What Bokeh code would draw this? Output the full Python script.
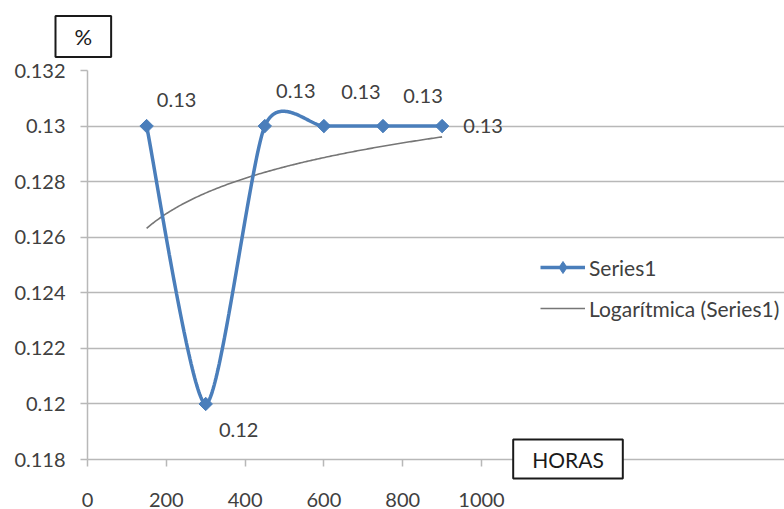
import numpy as np
from bokeh.plotting import figure
from bokeh.models import (Range1d, FixedTicker, CustomJSTickFormatter, Label,
                          Legend, LegendItem)
from bokeh.embed import file_html
from bokeh.resources import INLINE

# ---------------- data ----------------
horas = [150, 300, 450, 600, 750, 900]
series1 = [0.13, 0.12, 0.13, 0.13, 0.13, 0.13]
x_ticks = [0, 200, 400, 600, 800, 1000]
y_ticks = [0.118, 0.12, 0.122, 0.124, 0.126, 0.128, 0.13, 0.132]
series_name = "Series1"
trend_name = "Logarítmica (Series1)"
x_title = "HORAS"
y_title = "%"

# ---------------- styling / layout ----------------
FONT = "Lato"
TXT = "#404040"
BLUE = "#4a7ebb"
GRID = "#b8b8b8"
TREND = "#767676"
label_dx = [30, 33, 31, 37, 40, 41]
label_dy = [26, -26, 35, 34, 30, 0]
K = 0.12  # smoothing tension

X_MIN, X_MAX = 0, 1000
Y_MIN, Y_MAX = 0.118, 0.132
PLOT_W_PX = 394      # pixels for x 0..1000
PLOT_H_PX = 390      # pixels for y 0.118..0.132
EXTRA_B = 21         # frame continues below y=0.118 (axis title box)
B_LEFT, B_TOP = 87, 70
W, H = 784, 509
FRAME_W = W - B_LEFT
FRAME_H = PLOT_H_PX + EXTRA_B
x_end = X_MAX * FRAME_W / PLOT_W_PX
y_start = Y_MIN - (Y_MAX - Y_MIN) * EXTRA_B / PLOT_H_PX

p = figure(width=W, height=H, output_backend="svg", toolbar_location=None,
           x_range=Range1d(X_MIN, x_end), y_range=Range1d(y_start, Y_MAX),
           min_border_left=B_LEFT, min_border_right=0,
           min_border_top=B_TOP, min_border_bottom=H - B_TOP - FRAME_H)
p.outline_line_color = None
p.background_fill_color = "white"
p.border_fill_color = "white"

# axes
for ax in (p.xaxis[0], p.yaxis[0]):
    ax.axis_line_color = GRID
    ax.axis_line_width = 1.5
    ax.major_tick_line_color = GRID
    ax.major_tick_line_width = 1.5
    ax.minor_tick_line_color = None
    ax.major_label_text_font = FONT
    ax.major_label_text_font_size = "20px"
    ax.major_label_text_color = TXT
# y axis
p.yaxis[0].ticker = FixedTicker(ticks=y_ticks)
p.yaxis[0].bounds = (Y_MIN, Y_MAX)
p.yaxis[0].major_tick_in = 0
p.yaxis[0].major_tick_out = 7
p.yaxis[0].major_label_standoff = 15
p.yaxis[0].formatter = CustomJSTickFormatter(code="return parseFloat(tick.toFixed(3)).toString();")
# x axis: sits EXTRA_B px below the y=0.118 line; ticks drawn from that line
p.xaxis[0].ticker = FixedTicker(ticks=x_ticks)
p.xaxis[0].bounds = (X_MIN, X_MAX)
p.xaxis[0].axis_line_color = None
p.xaxis[0].major_tick_in = EXTRA_B
p.xaxis[0].major_tick_out = 7 - EXTRA_B
p.xaxis[0].major_label_standoff = 12

p.xgrid.grid_line_color = None
p.ygrid.grid_line_color = GRID
p.ygrid.grid_line_width = 1.5
p.ygrid.ticker = FixedTicker(ticks=y_ticks)
p.ygrid.bounds = (X_MIN, X_MAX)

# smoothed series (Catmull-Rom style Bezier through the data points)
xs = np.array(horas, dtype=float)
ys = np.array(series1, dtype=float)
n = len(xs)
cx, cy = [], []
for i in range(n - 1):
    i0 = max(i - 1, 0)
    i3 = min(i + 2, n - 1)
    p0 = np.array([xs[i], ys[i]])
    p1 = np.array([xs[i + 1], ys[i + 1]])
    c1 = p0 + K * (np.array([xs[i + 1], ys[i + 1]]) - np.array([xs[i0], ys[i0]]))
    c2 = p1 - K * (np.array([xs[i3], ys[i3]]) - np.array([xs[i], ys[i]]))
    t = np.linspace(0, 1, 60)[:, None]
    pts = ((1 - t) ** 3) * p0 + 3 * ((1 - t) ** 2) * t * c1 + 3 * (1 - t) * t ** 2 * c2 + t ** 3 * p1
    cx.extend(pts[:, 0].tolist())
    cy.extend(pts[:, 1].tolist())

# logarithmic trend line fitted to the series
a, b = np.polyfit(np.log(xs), ys, 1)
tx = np.linspace(xs.min(), xs.max(), 200)
ty = a * np.log(tx) + b

trend_r = p.line(tx, ty, line_color=TREND, line_width=1.6)
line_r = p.line(cx, cy, line_color=BLUE, line_width=3.5)
leg_mark_r = p.scatter(horas, series1, marker="diamond", size=12,
                       fill_color=BLUE, line_color=BLUE)
mark_r = p.scatter(horas, series1, marker="square", size=9.5, angle=np.pi / 4,
                   fill_color=BLUE, line_color=BLUE)

# data labels
for xv, yv, dx, dy in zip(horas, series1, label_dx, label_dy):
    p.add_layout(Label(x=xv, y=yv, x_offset=dx, y_offset=dy, text=f"{yv:.2f}",
                       text_align="center", text_baseline="middle",
                       text_font=FONT, text_font_size="20px", text_color=TXT))

# "HORAS" boxed axis title (inside the frame)
p.add_layout(Label(x=480.5, y=21.5, x_units="screen", y_units="screen", text=x_title,
                   text_align="center", text_baseline="middle",
                   text_font=FONT, text_font_size="21px", text_color="#1a1a1a",
                   border_line_color="#1a1a1a", border_line_width=2,
                   background_fill_color="white", padding=(19, 7)))

# "%" boxed axis title (as the plot title, above the frame)
p.title.text = y_title
p.title.align = "left"
p.title.offset = -32
p.title.standoff = 27
p.title.text_font = FONT
p.title.text_font_size = "22px"
p.title.text_font_style = "normal"
p.title.text_color = "#1a1a1a"
p.title.border_line_color = "#1a1a1a"
p.title.border_line_width = 2
p.title.background_fill_color = "white"
p.title.padding = (19, 7)

legend = Legend(items=[LegendItem(label=series_name, renderers=[line_r, leg_mark_r]),
                       LegendItem(label=trend_name, renderers=[trend_r])],
                location=(453, FRAME_H - (253 - B_TOP) - 71))
legend.border_line_color = None
legend.background_fill_alpha = 0
legend.padding = 0
legend.margin = 0
legend.spacing = 11
legend.glyph_width = 45
legend.glyph_height = 30
legend.label_height = 30
legend.label_standoff = 4
legend.label_text_font = FONT
legend.label_text_font_size = "21px"
legend.label_text_color = TXT
p.add_layout(legend)

open("out.html", "w").write(file_html(p, INLINE))
